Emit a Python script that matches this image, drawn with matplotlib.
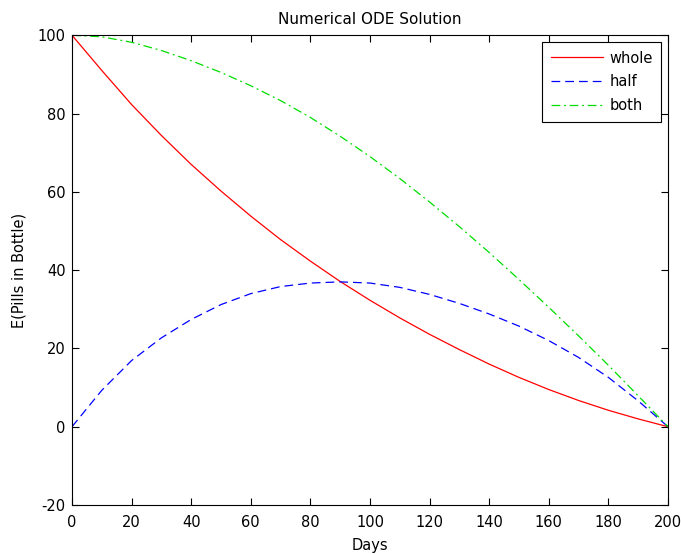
import matplotlib
matplotlib.use("Agg")
import matplotlib.pyplot as plt

# values, every 10 days
days = [0, 10, 20, 30, 40, 50, 60, 70, 80, 90, 100,
        110, 120, 130, 140, 150, 160, 170, 180, 190, 200]
whole = [100, 91.0, 82.3, 74.4, 67.0, 60.2, 53.8, 47.8, 42.3, 37.1, 32.3,
         27.8, 23.6, 19.7, 16.0, 12.6, 9.5, 6.7, 4.2, 2.0, 0]
half = [0, 9.3, 16.9, 22.7, 27.4, 31.2, 34.0, 35.8, 36.7, 37.0, 36.7,
        35.6, 33.8, 31.5, 28.8, 25.7, 22.0, 17.7, 12.6, 6.6, 0]
both = [100, 99.6, 98.2, 96.1, 93.5, 90.5, 87.1, 83.3, 79.0, 74.2, 69.0,
        63.4, 57.4, 51.1, 44.5, 37.6, 30.5, 23.2, 15.7, 7.9, 0]

x_ticks = list(range(0, 201, 20))
y_ticks = list(range(-20, 101, 20))

plt.rcParams['font.family'] = ['DejaVu Sans']
plt.rcParams['axes.unicode_minus'] = False
fs = 10.5

fig = plt.figure(figsize=(6.81, 5.54), dpi=100)
ax = fig.add_axes([0.1057, 0.0884, 0.8752, 0.848])

ax.plot(days, whole, color='#ff0000', lw=0.9, ls='-', label='whole')
ax.plot(days, half, color='#0000ff', lw=0.9, ls=(0, (7, 4)), label='half')
ax.plot(days, both, color='#00dd00', lw=0.9, ls=(0, (7, 3, 1.5, 3)), label='both')

ax.set_xlim(0, 200)
ax.set_ylim(-20, 100)
ax.set_xticks(x_ticks)
ax.set_yticks(y_ticks)
ax.tick_params(direction='in', top=True, right=True, length=5, width=0.8, labelsize=fs)
ax.tick_params(axis='x', pad=7)
ax.tick_params(axis='y', pad=4.5)
for s in ax.spines.values():
    s.set_linewidth(0.8)

ax.set_title('Numerical ODE Solution', fontsize=11, pad=8)
ax.set_xlabel('Days', fontsize=fs, labelpad=6)
ax.set_ylabel('E(Pills in Bottle)', fontsize=fs, labelpad=8)

leg = ax.legend(loc='upper right', fancybox=False, edgecolor='black', framealpha=1,
                handlelength=3.6, handletextpad=0.4, borderpad=0.6,
                borderaxespad=0.45, labelspacing=0.6, fontsize=fs)
leg.get_frame().set_linewidth(0.8)

fig.savefig('out.png', dpi=100)
